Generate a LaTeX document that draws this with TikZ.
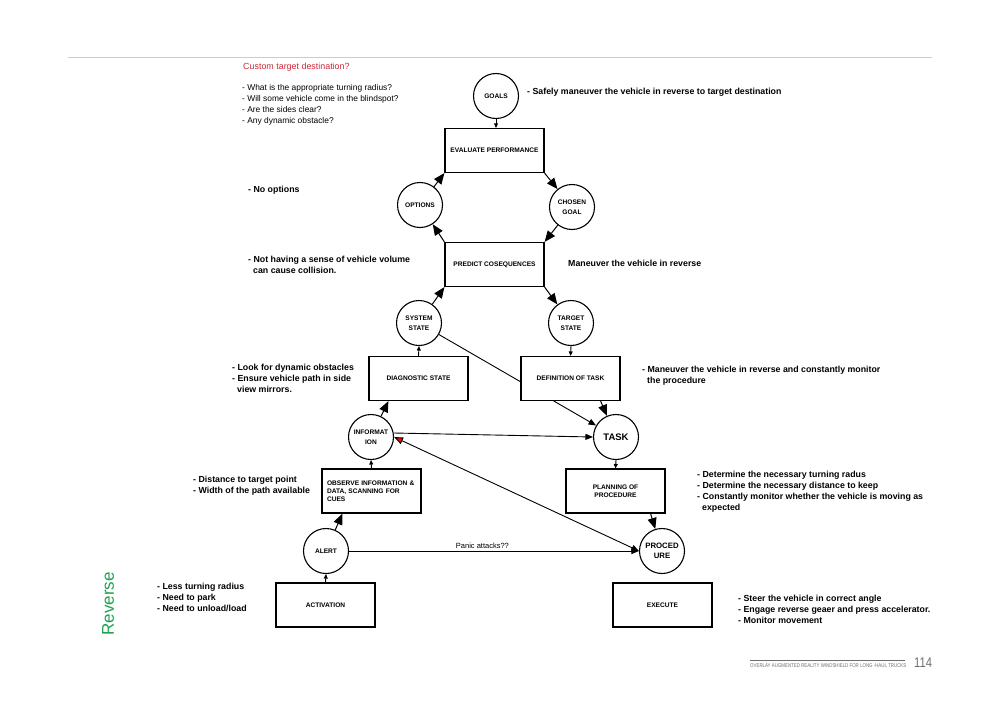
\documentclass[tikz,border=0pt]{standalone}
\usepackage{fontspec}
\setmainfont{Liberation Sans}
\usepackage{graphicx}
\usetikzlibrary{arrows.meta,backgrounds}
\definecolor{headred}{RGB}{205,40,60}
\definecolor{revgreen}{RGB}{30,160,80}
\definecolor{rulegray}{RGB}{205,205,205}
\definecolor{footgray}{RGB}{110,110,110}

\begin{document}
\begin{tikzpicture}[x=1pt,y=-1pt,
  stepcircle/.style={draw,circle,line width=1.1pt,fill=white,minimum size=45pt,inner sep=0pt,align=center,font=\fontsize{6.6}{9.8}\selectfont\bfseries},
  stepbox/.style={draw,rectangle,line width=1.2pt,fill=white,minimum width=99pt,minimum height=44pt,align=center,font=\fontsize{6.6}{8}\selectfont\bfseries},
  bigfont/.style={font=\fontsize{7.8}{10.5}\selectfont\bfseries},
  note/.style={anchor=north west,inner sep=0pt,align=left,font=\fontsize{8.8}{11}\selectfont\bfseries},
  question/.style={anchor=north west,inner sep=0pt,align=left,font=\fontsize{8.4}{11}\selectfont},
  arrowbig/.style={-{Triangle[length=11pt,width=9pt]},line width=1pt},
  arrowmid/.style={-{Triangle[length=7.5pt,width=6pt]},line width=0.9pt},
  arrowsmall/.style={-{Triangle[length=4.5pt,width=4pt]},line width=0.9pt}
]
\useasboundingbox (0,0) rectangle (1000,707);
% Page rules and footer
\draw[rulegray,line width=0.8pt] (68,57) -- (932,57);
\draw[footgray,line width=0.6pt] (750,660) -- (905,660);
\node[anchor=west,inner sep=0pt,text=footgray] (foot) at (750,666) {\scalebox{0.8}[1]{\fontsize{5.5}{6}\selectfont OVERLAY AUGMENTED REALITY WINDSHIELD FOR LONG -HAUL TRUCKS}};
\node[anchor=west,inner sep=0pt,text=footgray] (page) at (914,663) {\scalebox{0.8}[1]{\fontsize{14}{14}\selectfont 114}};
\node[rotate=90,text=revgreen,font=\fontsize{17}{17}\selectfont] (reverse) at (108,604) {Reverse};

% Steps of the decision ladder
\node[stepcircle] (goals) at (496,96) {GOALS};
\node[stepbox] (evaluate) at (494.5,150.5) {EVALUATE PERFORMANCE};
\node[stepcircle] (options) at (420,205) {OPTIONS};
\node[stepcircle] (chosen) at (572,207) {CHOSEN\\GOAL};
\node[stepbox] (predict) at (494.5,264.5) {PREDICT COSEQUENCES};
\node[stepcircle] (system) at (419,323) {SYSTEM\\STATE};
\node[stepcircle] (target) at (571,323) {TARGET\\STATE};
\node[stepbox] (diagnostic) at (418.5,378.5) {DIAGNOSTIC STATE};
\node[stepbox] (definition) at (570.5,378.5) {DEFINITION OF TASK};
\node[stepcircle] (information) at (371,437) {INFORMAT\\ION};
\node[stepcircle,font=\fontsize{9.5}{11}\selectfont\bfseries] (task) at (616,437) {TASK};
\node[stepbox,align=left,text width=89pt] (observe) at (371.5,491) {OBSERVE INFORMATION \&\\DATA, SCANNING FOR\\CUES};
\node[stepbox] (planning) at (615.5,491) {PLANNING OF\\PROCEDURE};
\node[stepcircle] (alert) at (326,551) {ALERT};
\node[stepcircle,bigfont] (procedure) at (662,551) {PROCED\\URE};
\node[stepbox] (activation) at (325.5,605) {ACTIVATION};
\node[stepbox] (execute) at (662.5,605) {EXECUTE};

% Connectors
\begin{scope}[on background layer]
\draw[arrowmid] (system) -- (task);
\end{scope}
\draw[arrowsmall] (goals.south) -- (goals.south |- evaluate.north);
\draw[arrowbig] (evaluate.south east) -- (chosen);
\draw[arrowbig] (chosen) -- (predict.north east);
\draw[arrowbig] (predict.north west) -- (options);
\draw[arrowbig] (options) -- (evaluate.south west);
\draw[arrowbig] (system) -- (predict.south west);
\draw[arrowbig] (predict.south east) -- (target);
\draw[arrowsmall] (diagnostic.north) -- (system.south);
\draw[arrowsmall] (target.south) -- (definition.north);
\draw[arrowbig] (information) -- ([xshift=20pt]diagnostic.south west);
\draw[arrowbig] ([xshift=-20pt]definition.south east) -- (task);
\draw[arrowmid] (information.10) -- (task.west);
\draw[{Triangle[length=9pt,width=7pt,fill=red]}-{Triangle[length=7.5pt,width=6pt]},line width=0.9pt] (information.east) -- (procedure.west);
\draw[arrowsmall] (observe.north) -- (information.south);
\draw[arrowbig] (alert) -- ([xshift=21pt]observe.south west);
\draw[arrowsmall] (task.south) -- (planning.north);
\draw[arrowbig] ([xshift=-15pt]planning.south east) -- (procedure);
\draw[arrowmid] (alert) -- node[pos=0.46,above,inner sep=2pt,font=\fontsize{7.5}{8}\selectfont] (panic) {Panic attacks??} (procedure);
\draw[arrowsmall] (activation.north) -- (alert.south);

% Questions and notes
\node[anchor=west,inner sep=0pt,text=headred,font=\fontsize{8.9}{11}\selectfont] (custom) at (243,67) {Custom target destination?};
\node[question] (questions) at (242,84) {- What is the appropriate turning radius?\\- Will some vehicle come in the blindspot?\\- Are the sides clear?\\- Any dynamic obstacle?};
\node[note,anchor=west] (goalnote) at (527,92) {- Safely maneuver the vehicle in reverse to target destination};
\node[note,anchor=west] (optnote) at (248,190) {- No options};
\node[note] (volnote) at (248,256) {- Not having a sense of vehicle volume\\\hspace*{5pt}can cause collision.};
\node[note,anchor=west] (revnote) at (568,263) {Maneuver the vehicle in reverse};
\node[note] (diagnote) at (232,364) {- Look for dynamic obstacles\\- Ensure vehicle path in side\\\hspace*{5pt}view mirrors.};
\node[note] (defnote) at (642,366) {- Maneuver the vehicle in reverse and constantly monitor\\\hspace*{5pt}the procedure};
\node[note] (obsnote) at (193,476) {- Distance to target point\\- Width of the path available};
\node[note] (plannote) at (697,471) {- Determine the necessary turning radus\\- Determine the necessary distance to keep\\- Constantly monitor whether the vehicle is moving as\\\hspace*{5pt}expected};
\node[note] (actnote) at (157,583) {- Less turning radius\\- Need to park\\- Need to unload/load};
\node[note] (exenote) at (738,595) {- Steer the vehicle in correct angle\\- Engage reverse geaer and press accelerator.\\- Monitor movement};
\end{tikzpicture}
\end{document}
